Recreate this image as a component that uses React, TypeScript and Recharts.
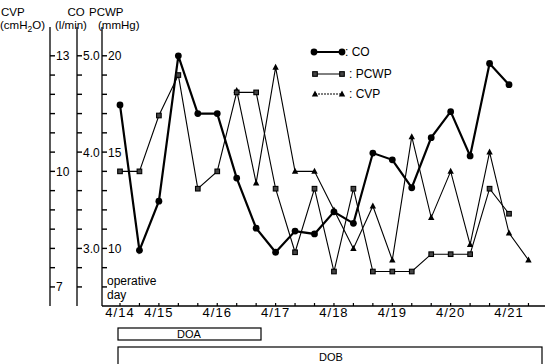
import React from 'react';
import { LineChart, Line, XAxis, YAxis } from 'recharts';

// measurement slots, 3 per day (8 h apart); slot 0 = 4/14
const slots = [0, 1, 2, 3, 4, 5, 6, 7, 8, 9, 10, 11, 12, 13, 14, 15, 16, 17, 18, 19, 20, 21];

// CO (l/min), slots 0..20
const coValues = [4.49, 2.98, 3.49, 5.0, 4.4, 4.4, 3.73, 3.21, 2.96, 3.18, 3.15, 3.38, 3.26, 3.99, 3.92, 3.63, 4.15, 4.42, 3.96, 4.92, 4.7];

// PCWP (mmHg), slots 0..20
const pcwpValues = [14.0, 14.0, 16.9, 19.0, 13.1, 14.0, 18.1, 18.1, 13.1, 9.8, 13.1, 8.8, 13.1, 8.8, 8.8, 8.8, 9.7, 9.7, 9.7, 13.1, 11.8];

// CVP (cmH2O), starts at slot 6
const cvpStart = 6;
const cvpValues = [12.1, 9.7, 12.7, 10.0, 10.0, 9.0, 8.0, 9.1, 7.7, 10.9, 8.8, 10.0, 8.1, 10.5, 8.4, 7.7];

// x axis labels
const dayLabels = ['4/14', '4/15', '4/16', '4/17', '4/18', '4/19', '4/20', '4/21'];
const daySlots = [0, 2, 5, 8, 11, 14, 17, 20];

// y ticks (minor + major)
const pcwpTicks = [8, 9, 10, 11, 12, 13, 14, 15, 16, 17, 18, 19, 20];
const pcwpMajor = [10, 15, 20];
const coTicks = [2.6, 2.8, 3.0, 3.2, 3.4, 3.6, 3.8, 4.0, 4.2, 4.4, 4.6, 4.8, 5.0];
const coMajor = [3, 4, 5];
const cvpTicks = [7, 7.5, 8, 8.5, 9, 9.5, 10, 10.5, 11, 11.5, 12, 12.5, 13];
const cvpMajor = [7, 10, 13];

const FONT = '"Liberation Sans", Arial, Helvetica, sans-serif';

// ticks point into the plot (to the right), label follows the mark
const makeYTick = (majors: number[], fmt: (v: number) => string) => (props: any) => {
  const x = Number(props.x);
  const y = Number(props.y);
  const v = props.payload.value;
  const major = majors.some((m) => Math.abs(m - v) < 1e-6);
  return (
    <g>
      <rect x={x} y={y - 0.7} width={5} height={1.4} fill="#000" />
      {major && (
        <text x={x + 6} y={y + 4.5} fontSize={12} fontFamily={FONT} fill="#000" stroke="none" textAnchor="start">
          {fmt(v)}
        </text>
      )}
    </g>
  );
};

const XTick = (props: any) => {
  const x = Number(props.x);
  const y = Number(props.y);
  const k = daySlots.indexOf(props.payload.value);
  return (
    <g>
      <rect x={x - 0.6} y={y - 3} width={1.2} height={3} fill="#000" />
      {k >= 0 && (
        <text x={x} y={y + 11} fontSize={13} fontFamily={FONT} fill="#000" stroke="none" textAnchor="middle" letterSpacing={1}>
          {dayLabels[k]}
        </text>
      )}
    </g>
  );
};

const CircleDot = (props: any) => {
  const { cx, cy } = props;
  if (cx == null || cy == null) return null;
  return <circle key={props.index} cx={cx} cy={cy} r={3.4} fill="#000" />;
};

const SquareDot = (props: any) => {
  const { cx, cy } = props;
  if (cx == null || cy == null) return null;
  return <rect key={props.index} x={cx - 2.3} y={cy - 2.3} width={4.6} height={4.6} fill="#444" stroke="#000" strokeWidth={1.1} />;
};

const TriDot = (props: any) => {
  const { cx, cy } = props;
  if (cx == null || cy == null) return null;
  return <path key={props.index} d={`M${cx},${cy - 3.5}L${cx + 3.2},${cy + 2.5}L${cx - 3.2},${cy + 2.5}Z`} fill="#000" />;
};

const axisLine = { stroke: '#000', strokeWidth: 1.3 };

export default function App() {
  const rows = slots.map((s, i) => ({
    slot: s,
    co: i < coValues.length ? coValues[i] : null,
    pcwp: i < pcwpValues.length ? pcwpValues[i] : null,
    cvp: i >= cvpStart ? cvpValues[i - cvpStart] : null,
  }));

  return (
    <div style={{ position: 'absolute', left: 0, top: 0, width: 546, height: 364, background: '#fff', fontFamily: FONT }}>
      <LineChart width={546} height={364} data={rows} margin={{ top: 27, right: 1, bottom: 38, left: 0 }}>
        <XAxis
          dataKey="slot"
          type="number"
          domain={[-0.925, 21.85]}
          allowDataOverflow
          ticks={slots}
          interval={0}
          tickSize={0}
          tickMargin={0}
          height={20}
          axisLine={axisLine}
          tickLine={false}
          tick={XTick}
        />
        {/* ids sort pcwp nearest the plot, then co, then cvp outermost */}
        <YAxis
          yAxisId="y1-pcwp"
          type="number"
          domain={[7.01, 21.495]}
          allowDataOverflow
          ticks={pcwpTicks}
          interval={0}
          width={25}
          tickSize={0}
          tickMargin={0}
          tickLine={false}
          axisLine={axisLine}
          tick={makeYTick(pcwpMajor, (v) => String(v))}
        />
        <YAxis
          yAxisId="y2-co"
          type="number"
          domain={[2.402, 5.299]}
          allowDataOverflow
          ticks={coTicks}
          interval={0}
          width={27}
          tickSize={0}
          tickMargin={0}
          tickLine={false}
          axisLine={axisLine}
          tick={makeYTick(coMajor, (v) => v.toFixed(1))}
        />
        <YAxis
          yAxisId="y3-cvp"
          type="number"
          domain={[6.505, 13.748]}
          allowDataOverflow
          ticks={cvpTicks}
          interval={0}
          width={50}
          tickSize={0}
          tickMargin={0}
          tickLine={false}
          axisLine={axisLine}
          tick={makeYTick(cvpMajor, (v) => String(v))}
        />
        <Line yAxisId="y3-cvp" dataKey="cvp" type="linear" stroke="#000" strokeWidth={1.1} dot={<TriDot />} activeDot={false} isAnimationActive={false} />
        <Line yAxisId="y1-pcwp" dataKey="pcwp" type="linear" stroke="#000" strokeWidth={1.1} dot={<SquareDot />} activeDot={false} isAnimationActive={false} />
        <Line yAxisId="y2-co" dataKey="co" type="linear" stroke="#000" strokeWidth={2.2} dot={<CircleDot />} activeDot={false} isAnimationActive={false} />
      </LineChart>

      <svg width={546} height={364} style={{ position: 'absolute', left: 0, top: 0, pointerEvents: 'none' }}>
        <g fontFamily={FONT} fontSize={11.5} fill="#000">
          <text x={1} y={16}>CVP</text>
          <text x={0} y={29}>(cmH<tspan dy={3} fontSize={8.5}>2</tspan><tspan dy={-3}>O)</tspan></text>
          <text x={76} y={16} textAnchor="middle">CO</text>
          <text x={55} y={29}>(l/min)</text>
          <text x={89} y={16}>PCWP</text>
          <text x={98} y={29}>(mmHg)</text>

          <text x={107} y={285} fontSize={12}>operative</text>
          <text x={107} y={299} fontSize={12}>day</text>

          {/* legend */}
          <line x1={314} x2={342} y1={52} y2={52} stroke="#000" strokeWidth={2} />
          <circle cx={314} cy={52} r={3.4} />
          <circle cx={342} cy={52} r={3.4} />
          <text x={345} y={56} fontSize={12}>: CO</text>

          <line x1={315} x2={342} y1={74} y2={74} stroke="#000" strokeWidth={1} />
          <rect x={312.7} y={71.7} width={4.6} height={4.6} fill="#444" stroke="#000" strokeWidth={1.1} />
          <rect x={339.7} y={71.7} width={4.6} height={4.6} fill="#444" stroke="#000" strokeWidth={1.1} />
          <text x={349} y={78} fontSize={12}>: PCWP</text>

          <line x1={315} x2={342} y1={94} y2={94} stroke="#000" strokeWidth={1} strokeDasharray="2 1" />
          <path d="M315,90.5L318.2,96.5L311.8,96.5Z" />
          <path d="M342,90.5L345.2,96.5L338.8,96.5Z" />
          <text x={349} y={98} fontSize={12}>: CVP</text>

          {/* drug periods */}
          <rect x={118} y={328} width={143} height={12} fill="none" stroke="#000" strokeWidth={1.2} />
          <text x={189} y={338} fontSize={11} textAnchor="middle">DOA</text>
          <rect x={118} y={347} width={424} height={22} fill="none" stroke="#000" strokeWidth={1.2} />
          <text x={331} y={361} fontSize={11} textAnchor="middle">DOB</text>
        </g>
      </svg>
    </div>
  );
}
